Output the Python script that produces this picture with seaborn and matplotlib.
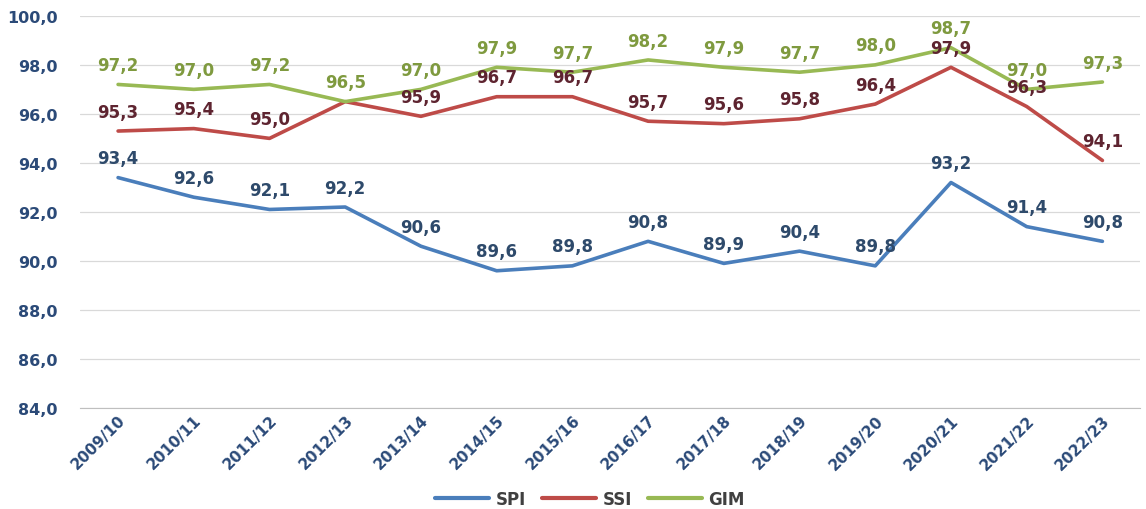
import matplotlib.pyplot as plt
import seaborn as sns
import pandas as pd
import numpy as np

# Data
years = ["2009/10", "2010/11", "2011/12", "2012/13", "2013/14", "2014/15", "2015/16",
         "2016/17", "2017/18", "2018/19", "2019/20", "2020/21", "2021/22", "2022/23"]
spi = [93.4, 92.6, 92.1, 92.2, 90.6, 89.6, 89.8, 90.8, 89.9, 90.4, 89.8, 93.2, 91.4, 90.8]
ssi = [95.3, 95.4, 95.0, 96.5, 95.9, 96.7, 96.7, 95.7, 95.6, 95.8, 96.4, 97.9, 96.3, 94.1]
gim = [97.2, 97.0, 97.2, 96.5, 97.0, 97.9, 97.7, 98.2, 97.9, 97.7, 98.0, 98.7, 97.0, 97.3]

series = ["SPI", "SSI", "GIM"]
line_colors = ["#4a7ebb", "#be4b48", "#98b954"]
label_colors = ["#2e4a6b", "#5e2430", "#7f9a3f"]

df = pd.DataFrame({"year": years * 3,
                   "idx": list(range(len(years))) * 3,
                   "value": spi + ssi + gim,
                   "series": sum([[s] * len(years) for s in series], [])})

sns.set_style("white")
fig = plt.figure(figsize=(11.46, 5.10), dpi=100)
ax = fig.add_axes([0.07, 0.198, 0.925, 0.769])

sns.lineplot(data=df, x="idx", y="value", hue="series", hue_order=series,
             palette=line_colors, linewidth=2.6, ax=ax, legend=True)

# data labels
for s, c in zip(series, label_colors):
    sub = df[df["series"] == s]
    for _, r in sub.iterrows():
        if s == "SSI" and r["idx"] == 3:
            continue  # hidden under GIM label in the original
        ax.annotate(f"{r['value']:.1f}".replace(".", ","), (r["idx"], r["value"]),
                    xytext=(0, 14), textcoords="offset points", ha="center", va="center",
                    fontsize=12, fontweight="bold", color=c)

ax.set_ylim(84, 100)
ax.set_xlim(-0.47, 13.35)
yt = np.arange(84, 101, 2)
ax.set_yticks(yt)
ax.set_yticklabels([f"{v:.1f}".replace(".", ",") for v in yt],
                   fontsize=11.5, fontweight="bold", color="#2b4a78")
ax.set_xticks(range(len(years)))
ax.set_xticklabels(years, rotation=45, ha="right", rotation_mode="anchor",
                   fontsize=11, fontweight="bold", color="#2b4a78")
ax.set_xticks(np.arange(-0.5, len(years), 1), minor=True)
ax.tick_params(axis="x", which="major", length=0, pad=3)
ax.tick_params(axis="x", which="minor", length=4, color="#bfbfbf")
ax.tick_params(axis="y", length=0, pad=16)
ax.grid(axis="y", color="#d9d9d9", linewidth=0.9)
ax.set_axisbelow(True)
for sp in ["top", "right", "left"]:
    ax.spines[sp].set_visible(False)
ax.spines["bottom"].set_color("#bfbfbf")
ax.set_xlabel("")
ax.set_ylabel("")

leg = ax.legend(loc="center", bbox_to_anchor=(0.481, -0.232), ncol=3, frameon=False,
                handlelength=3.2, columnspacing=1.0, handletextpad=0.4,
                prop={"weight": "bold", "size": 12})
for t in leg.get_texts():
    t.set_color("#404040")
for h in leg.get_lines():
    h.set_linewidth(3)

fig.savefig("out.png", dpi=100)
